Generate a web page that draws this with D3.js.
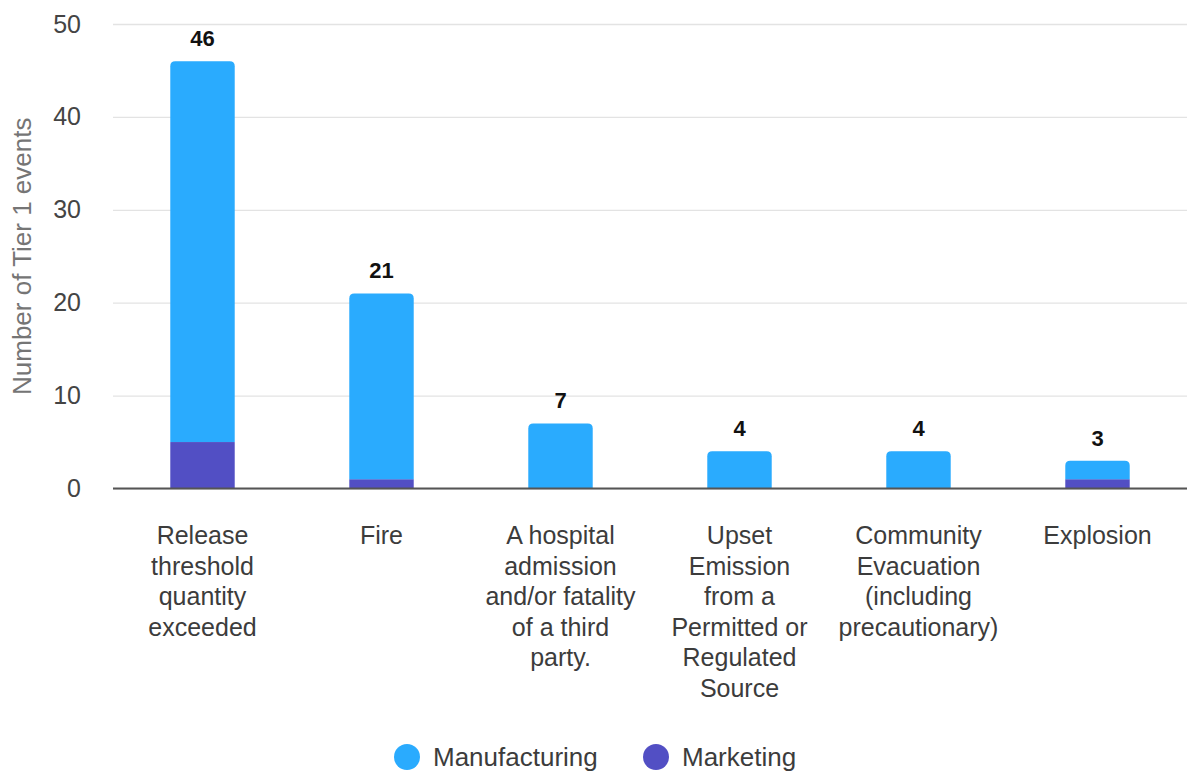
<!DOCTYPE html>
<html>
<head>
<meta charset="utf-8">
<script src="https://cdn.jsdelivr.net/npm/d3@7"></script>
<style>
  html, body { margin: 0; padding: 0; background: #fff; }
  svg { display: block; font-family: Arial, "Liberation Sans", sans-serif; }
</style>
</head>
<body>
<svg id="chart" width="1192" height="774"></svg>
<script>
// Tier 1 process safety events by category, split by business segment
const categories = [
  "Release\nthreshold\nquantity\nexceeded",
  "Fire",
  "A hospital\nadmission\nand/or fatality\nof a third\nparty.",
  "Upset\nEmission\nfrom a\nPermitted or\nRegulated\nSource",
  "Community\nEvacuation\n(including\nprecautionary)",
  "Explosion"
];
const manufacturing = [41, 20, 7, 4, 4, 2];
const marketing = [5, 1, 0, 0, 0, 1];
const totals = [46, 21, 7, 4, 4, 3];
const seriesNames = ["Manufacturing", "Marketing"];
const seriesColors = ["#2aabfe", "#524fc4"];
const yTicks = [0, 10, 20, 30, 40, 50];
const yTitle = "Number of Tier 1 events";

const svg = d3.select("#chart");
const plotLeft = 113, plotRight = 1187, plotTop = 24, plotBottom = 488.5;

const x = d3.scaleBand()
  .domain(d3.range(categories.length))
  .range([plotLeft, plotRight])
  .paddingInner(0.64)
  .paddingOuter(0.32);

const y = d3.scaleLinear().domain([0, 50]).range([plotBottom, plotTop]);

// gridlines and tick labels
const yAxis = d3.axisLeft(y).tickValues(yTicks).tickSize(-(plotRight - plotLeft)).tickPadding(32);
const gy = svg.append("g").attr("transform", `translate(${plotLeft},0)`).call(yAxis);
gy.select(".domain").remove();
gy.selectAll(".tick line").attr("stroke", "#e3e3e3").attr("stroke-width", 1.3);
gy.selectAll(".tick text")
  .attr("fill", "#444")
  .style("font-size", "25px")
  .style("font-family", "Arial, 'Liberation Sans', sans-serif");

// stacked bars: marketing at the base, manufacturing on top
const stackData = categories.map((c, i) => ({ i, Marketing: marketing[i], Manufacturing: manufacturing[i] }));
const stack = d3.stack().keys(["Marketing", "Manufacturing"])(stackData);
const colorOf = { Manufacturing: seriesColors[0], Marketing: seriesColors[1] };
const radius = 5;

stack.forEach(layer => {
  const g = svg.append("g").attr("fill", colorOf[layer.key]);
  layer.forEach(d => {
    const i = d.data.i;
    if (d[1] - d[0] <= 0) return;
    const x0 = x(i), w = x.bandwidth();
    const y0 = y(d[0]), y1 = y(d[1]);
    const isTop = d[1] === totals[i];
    if (isTop) {
      const rr = Math.min(radius, (y0 - y1));
      g.append("path").attr("d",
        `M${x0},${y0}V${y1 + rr}Q${x0},${y1} ${x0 + rr},${y1}H${x0 + w - rr}Q${x0 + w},${y1} ${x0 + w},${y1 + rr}V${y0}Z`);
    } else {
      g.append("rect").attr("x", x0).attr("y", y1).attr("width", w).attr("height", y0 - y1);
    }
  });
});

// baseline
svg.append("line")
  .attr("x1", plotLeft).attr("x2", plotRight)
  .attr("y1", y(0)).attr("y2", y(0))
  .attr("stroke", "#555").attr("stroke-width", 2);

// total labels
svg.append("g").selectAll("text").data(totals).join("text")
  .attr("x", (d, i) => x(i) + x.bandwidth() / 2)
  .attr("y", d => y(d) - 15)
  .attr("text-anchor", "middle")
  .attr("font-weight", "bold")
  .attr("font-size", 22)
  .attr("fill", "#111")
  .text(d => d);

// category labels
const cat = svg.append("g").selectAll("text").data(categories).join("text")
  .attr("text-anchor", "middle")
  .attr("font-size", 25)
  .attr("fill", "#3c3c3c")
  .attr("transform", (d, i) => `translate(${x(i) + x.bandwidth() / 2},544)`);
cat.selectAll("tspan").data(d => d.split("\n")).join("tspan")
  .attr("x", 0)
  .attr("dy", (d, j) => j === 0 ? 0 : 30.6)
  .text(d => d);

// y axis title
svg.append("text")
  .attr("transform", `translate(31,${(plotTop + plotBottom) / 2}) rotate(-90)`)
  .attr("text-anchor", "middle")
  .attr("font-size", 26)
  .attr("fill", "#757575")
  .text(yTitle);

// legend
const legendX = [407, 656];
const lg = svg.append("g").selectAll("g").data(seriesNames).join("g")
  .attr("transform", (d, i) => `translate(${legendX[i]},757)`);
lg.append("circle").attr("r", 13).attr("fill", (d, i) => seriesColors[i]);
lg.append("text")
  .attr("x", 26).attr("y", 9)
  .attr("font-size", 26)
  .attr("fill", "#3c3c3c")
  .text(d => d);
</script>
</body>
</html>
